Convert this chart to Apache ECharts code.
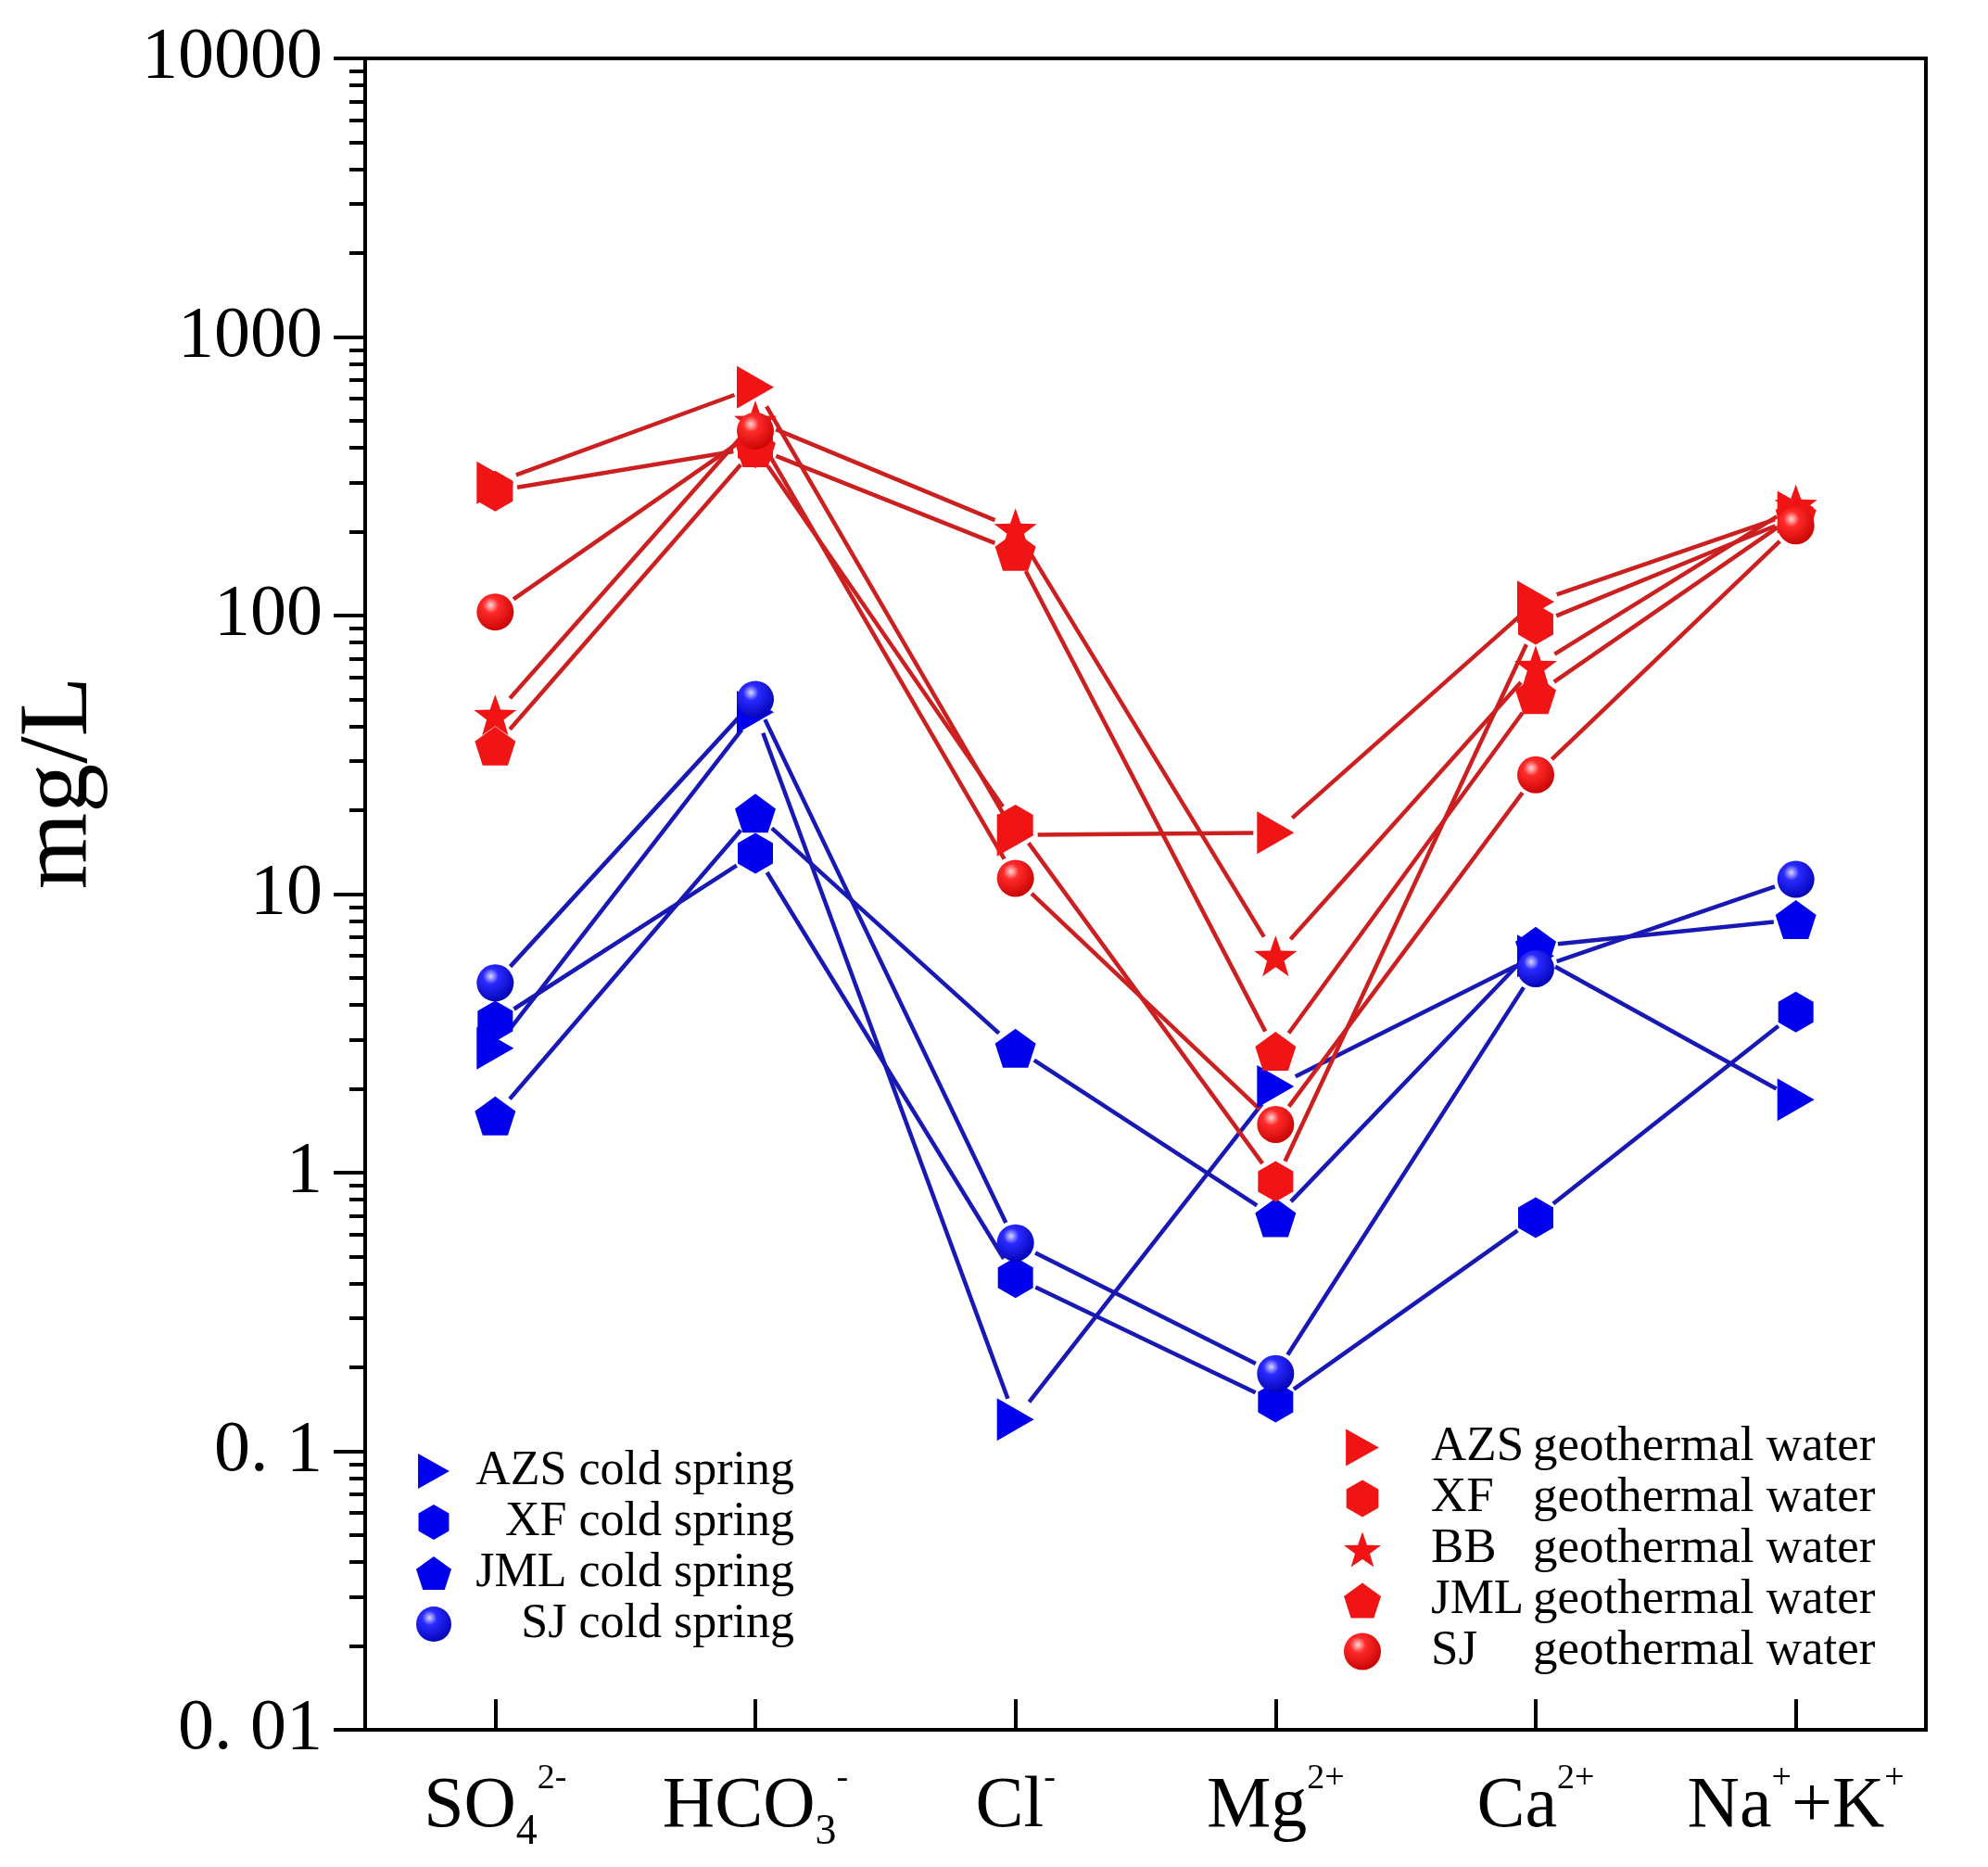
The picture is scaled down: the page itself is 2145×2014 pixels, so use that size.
<!DOCTYPE html>
<html>
<head>
<meta charset="utf-8">
<script src="https://cdn.jsdelivr.net/npm/echarts@6/dist/echarts.min.js"></script>
<style>
html,body{margin:0;padding:0;background:#fff;}
#chart{width:2145px;height:2014px;}
</style>
</head>
<body>
<div id="chart"></div>
<script>
// ---- data ----
const categories = ['SO4 2-', 'HCO3 -', 'Cl -', 'Mg 2+', 'Ca 2+', 'Na+ + K+'];
const categoryLabels = ['SO{sub|4}{sup|2-}', 'HCO{sub|3}{sup|-}', 'Cl{sup|-}', 'Mg{sup|2+}', 'Ca{sup|2+}', 'Na{sup|+}+K{sup|+}'];

const tickValues = [0.01, 0.1, 1, 10, 100, 1000, 10000];
const tickLabels = ['0. 01', '0. 1', '1', '10', '100', '1000', '10000'];
const minorMultipliers = [2, 3, 4, 5, 6, 7, 8, 9];

const coldNames = ['AZS cold spring', 'XF cold spring', 'JML cold spring', 'SJ cold spring'];
const coldAZS = [2.8, 45, 0.13, 2.04, 6.0, 1.83];
const coldXF  = [3.5, 14, 0.42, 0.15, 0.69, 3.77];
const coldJML = [1.6, 19.5, 2.8, 0.69, 6.5, 8.1];
const coldSJ  = [4.8, 50, 0.56, 0.19, 5.4, 11.3];

const geoNames = ['AZS geothermal water', 'XF geothermal water', 'BB geothermal water', 'JML geothermal water', 'SJ geothermal water'];
const geoAZS = [300, 660, 16.3, 16.6, 112, 235];
const geoXF  = [280, 400, 17.7, 0.93, 93, 225];
const geoBB  = [44, 500, 205, 6.0, 66, 250];
const geoJML = [34, 400, 170, 2.73, 52, 230];
const geoSJ  = [103, 460, 11.4, 1.49, 26.8, 210];

// ---- styles ----
const FONT = 'Liberation Serif';
const RED = '#f01414', RED_LINE = '#cc2020';
const BLUE = '#0000ee', BLUE_LINE = '#1818b4';
const GAP = 24, LW = 4.5;

const SYM_TRI = 'path://M0,0L10,5.6L0,11.2Z';
const SYM_HEX = 'path://M4.33,0L8.66,2.5L8.66,7.5L4.33,10L0,7.5L0,2.5Z';
const SYM_PENT = 'path://M10,0L19.511,6.910L15.878,18.090L4.122,18.090L0.489,6.910Z';
const SYM_STAR = 'path://M10,0L12.351,6.764L19.511,6.910L13.804,11.236L15.878,18.090L10,14L4.122,18.090L6.196,11.236L0.489,6.910L7.649,6.764Z';

function sphere(light, mid, dark) {
  return {type: 'radial', x: 0.38, y: 0.32, r: 0.75,
    colorStops: [{offset: 0, color: light}, {offset: 0.28, color: mid}, {offset: 1, color: dark}]};
}

const minorValues = [];
for (let e = -2; e < 4; e++) {
  minorMultipliers.forEach(m => minorValues.push(Number((m * Math.pow(10, e)).toPrecision(6))));
}

function lineSeries(values, color) {
  return {
    type: 'custom', coordinateSystem: 'cartesian2d', z: 2, silent: true,
    encode: {x: 0, y: [1, 2]},
    data: values.slice(0, -1).map((v, i) => [i, v, values[i + 1]]),
    renderItem: function (params, api) {
      const i = api.value(0);
      const p1 = api.coord([i, api.value(1)]);
      const p2 = api.coord([i + 1, api.value(2)]);
      const dx = p2[0] - p1[0], dy = p2[1] - p1[1];
      const len = Math.sqrt(dx * dx + dy * dy);
      if (len <= 2 * GAP) return null;
      const ux = dx / len, uy = dy / len;
      return {type: 'line',
        shape: {x1: p1[0] + ux * GAP, y1: p1[1] + uy * GAP, x2: p2[0] - ux * GAP, y2: p2[1] - uy * GAP},
        style: {stroke: color, lineWidth: LW}};
    }
  };
}

function pointSeries(name, values, symbol, size, color) {
  return {
    type: 'scatter', name: name, z: 5, symbol: symbol, symbolSize: size,
    itemStyle: {color: color, opacity: 1},
    data: values.map((v, i) => [i, v])
  };
}

const redSphere = sphere('#ffd8d8', '#ff2a2a', '#c40000');
const blueSphere = sphere('#d8d8ff', '#2a2aff', '#0000b0');

const series = [
  lineSeries(coldAZS, BLUE_LINE), lineSeries(coldXF, BLUE_LINE), lineSeries(coldJML, BLUE_LINE), lineSeries(coldSJ, BLUE_LINE),
  lineSeries(geoAZS, RED_LINE), lineSeries(geoXF, RED_LINE), lineSeries(geoBB, RED_LINE), lineSeries(geoJML, RED_LINE), lineSeries(geoSJ, RED_LINE),
  pointSeries(coldNames[0], coldAZS, SYM_TRI, [40, 46], BLUE),
  pointSeries(coldNames[1], coldXF, SYM_HEX, [38, 44], BLUE),
  pointSeries(coldNames[2], coldJML, SYM_PENT, [44, 42], BLUE),
  pointSeries(coldNames[3], coldSJ, 'circle', 40, blueSphere),
  pointSeries(geoNames[0], geoAZS, SYM_TRI, [40, 46], RED),
  pointSeries(geoNames[1], geoXF, SYM_HEX, [38, 44], RED),
  pointSeries(geoNames[2], geoBB, SYM_STAR, [46, 44], RED),
  pointSeries(geoNames[3], geoJML, SYM_PENT, [44, 42], RED),
  pointSeries(geoNames[4], geoSJ, 'circle', 40, redSphere)
];

const chart = echarts.init(document.getElementById('chart'), null, {renderer: 'canvas'});
chart.setOption({
  backgroundColor: '#fff',
  animation: false,
  grid: {left: 394, top: 63, right: 67, bottom: 148, containLabel: false,
    show: true, borderColor: '#000', borderWidth: 4, backgroundColor: 'transparent'},
  xAxis: {
    type: 'category', data: categories, boundaryGap: true,
    axisLine: {show: true, lineStyle: {color: '#000', width: 4}},
    axisTick: {show: true, inside: true, alignWithLabel: true, length: 33, lineStyle: {color: '#000', width: 4}},
    splitLine: {show: false},
    axisLabel: {
      margin: 34, interval: 0, color: '#000',
      formatter: function (v, idx) { return categoryLabels[idx]; },
      rich: {
        sup: {fontFamily: FONT, fontSize: 38, lineHeight: 48, verticalAlign: 'top', color: '#000'},
        sub: {fontFamily: FONT, fontSize: 46, lineHeight: 56, verticalAlign: 'bottom', color: '#000'}
      },
      fontFamily: FONT, fontSize: 78, lineHeight: 100
    }
  },
  yAxis: [{
    type: 'log', logBase: 10, min: 0.01, max: 10000,
    name: 'mg/L', nameLocation: 'middle', nameRotate: 90, nameGap: 276,
    nameTextStyle: {fontFamily: FONT, fontSize: 106, color: '#000', padding: [0, 0, 0, 240]},
    axisLine: {show: true, lineStyle: {color: '#000', width: 4}},
    axisTick: {show: true, inside: false, length: 34, customValues: tickValues, lineStyle: {color: '#000', width: 4}},
    splitLine: {show: false},
    axisLabel: {
      customValues: tickValues, margin: 46, color: '#000', fontFamily: FONT, fontSize: 78,
      formatter: function (v) { return tickLabels[Math.round(Math.log10(v)) + 2]; }
    }
  }, {
    type: 'log', logBase: 10, min: 0.01, max: 10000, position: 'left', offset: 0,
    axisLine: {show: false},
    axisTick: {show: true, inside: false, length: 17, customValues: minorValues, lineStyle: {color: '#000', width: 4}},
    axisLabel: {show: false},
    splitLine: {show: false}
  }],
  legend: [{
    orient: 'vertical', left: 449, top: 1561, padding: 0,
    itemWidth: 38, itemHeight: 38, itemGap: 3,
    data: coldNames,
    formatter: function (name) { return '{t|' + name + '}'; },
    textStyle: {
      color: '#000', fontFamily: FONT, fontSize: 52, lineHeight: 38,
      rich: {t: {width: 365, align: 'right', fontFamily: FONT, fontSize: 52, lineHeight: 38, color: '#000'}}
    }
  }, {
    orient: 'vertical', left: 1450, top: 1535, padding: 0,
    itemWidth: 40, itemHeight: 40, itemGap: 2,
    data: geoNames,
    formatter: function (name) {
      const parts = name.split(' ');
      return '{s| }{n|' + parts[0] + '}{g|' + parts.slice(1).join(' ') + '}';
    },
    textStyle: {
      color: '#000', fontFamily: FONT, fontSize: 53, lineHeight: 40,
      rich: {
        s: {width: 49, fontSize: 53, lineHeight: 40},
        n: {width: 110, align: 'left', fontFamily: FONT, fontSize: 53, lineHeight: 40, color: '#000'},
        g: {align: 'left', fontFamily: FONT, fontSize: 53, lineHeight: 40, color: '#000'}
      }
    }
  }],
  series: series
});
</script>
</body>
</html>
